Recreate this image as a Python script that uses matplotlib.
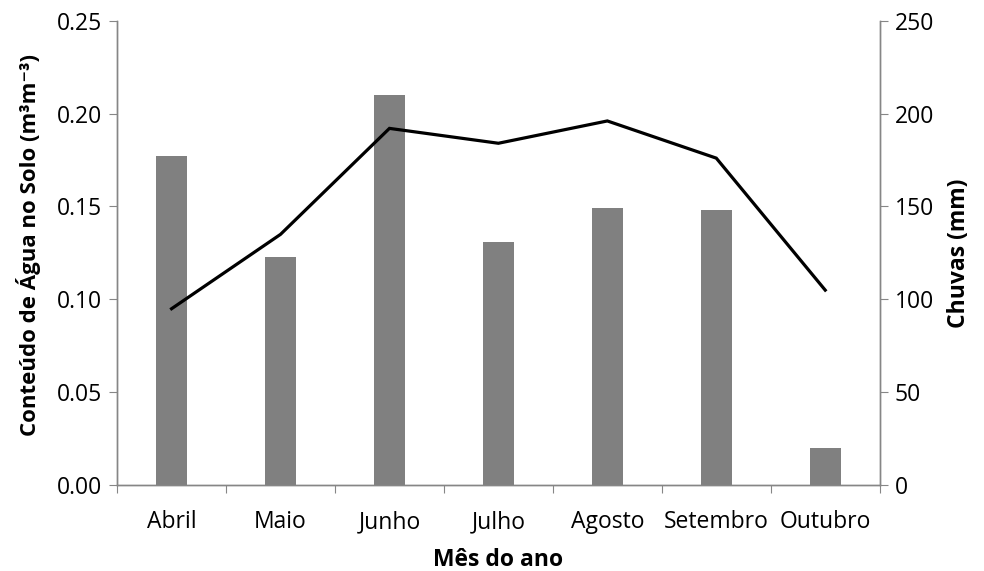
import matplotlib
matplotlib.use("Agg")
import matplotlib.pyplot as plt
import numpy as np

plt.rcParams['font.family'] = ['Open Sans', 'DejaVu Sans']

meses = ['Abril', 'Maio', 'Junho', 'Julho', 'Agosto', 'Setembro', 'Outubro']
chuvas = [177, 123, 210, 131, 149, 148, 20]                       # mm
agua_solo = [0.095, 0.135, 0.192, 0.184, 0.196, 0.176, 0.105]     # m3 m-3

eixo_cor = '#868686'
fs = 16.5

fig = plt.figure(figsize=(9.84, 5.71), dpi=100)
ax = fig.add_axes([0.119, 0.150, 0.775, 0.814])
ax2 = ax.twinx()

x = np.arange(len(meses))

# chuvas em barras no eixo da direita
ax2.bar(x, chuvas, width=0.285, color='#808080', zorder=2)
ax2.set_ylim(0, 250)
ax2.set_yticks(np.arange(0, 251, 50))

# conteudo de agua em linha no eixo da esquerda
ax.plot(x, agua_solo, color='black', lw=2.3, solid_joinstyle='miter', zorder=3)
ax.set_ylim(0, 0.25)
ax.set_yticks(np.arange(0, 0.251, 0.05))
ax.set_yticklabels(['%.2f' % v for v in np.arange(0, 0.251, 0.05)])
ax.set_zorder(ax2.get_zorder() + 1)
ax.patch.set_visible(False)

ax.set_xlim(-0.5, len(meses) - 0.5)
ax.set_xticks(np.arange(-0.5, len(meses)), minor=False)
ax.set_xticklabels([])
ax.set_xticks(x, minor=True)
ax.set_xticklabels(meses, minor=True)
ax.tick_params(axis='x', which='minor', length=0, pad=18, labelsize=fs)
ax.tick_params(axis='x', which='major', length=6, color=eixo_cor, direction='out')
ax.tick_params(axis='y', length=6, color=eixo_cor, labelsize=fs, pad=5)
ax2.tick_params(axis='y', length=6, color=eixo_cor, labelsize=fs, pad=5)

for a in (ax, ax2):
    a.spines['top'].set_visible(False)
    for s in ('left', 'right', 'bottom'):
        a.spines[s].set_color(eixo_cor)
        a.spines[s].set_linewidth(1.0)

ax.set_xlabel('Mês do ano', fontsize=fs, fontweight='bold', labelpad=10)
ax.set_ylabel('Conteúdo de Água no Solo (m³m⁻³)', fontsize=16, fontweight='bold',
              labelpad=11, y=0.517)
ax2.set_ylabel('Chuvas (mm)', fontsize=fs, fontweight='bold', labelpad=9)

fig.savefig('out.png', dpi=100)
